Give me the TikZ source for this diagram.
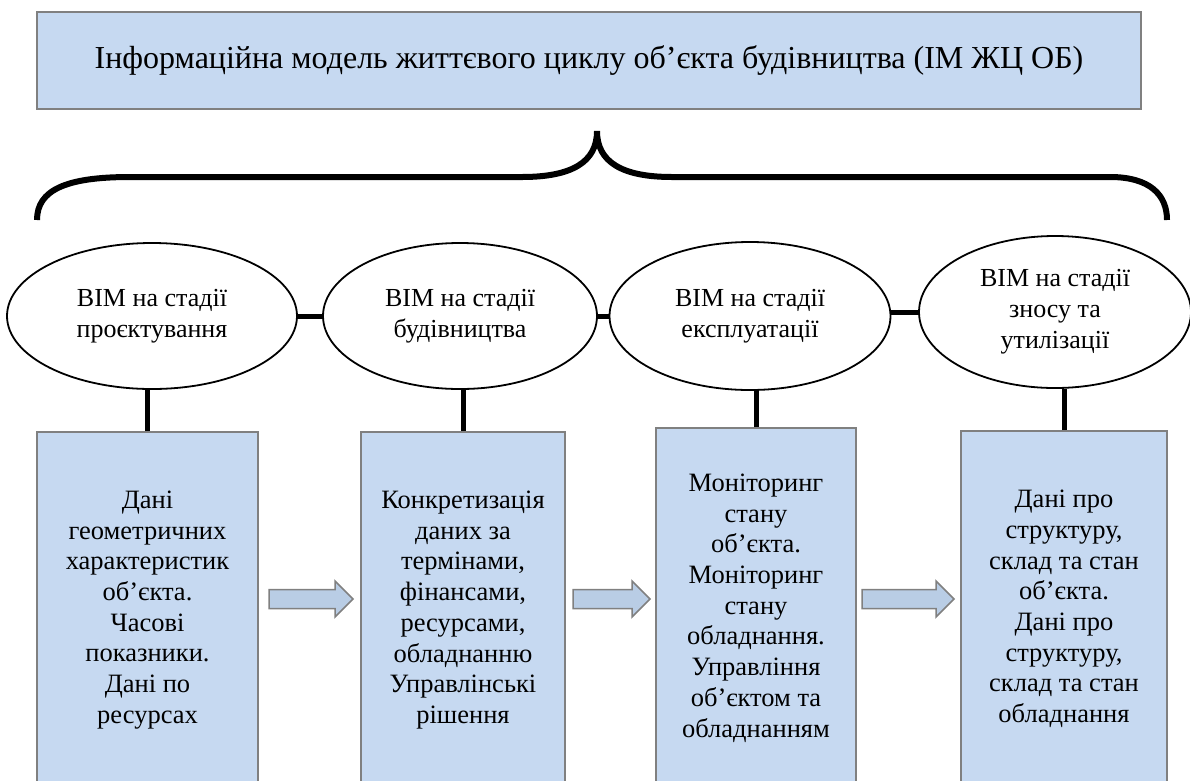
\documentclass[tikz,border=0pt]{standalone}
\usepackage{fontspec}
\setmainfont{Liberation Serif}
\usetikzlibrary{shapes.geometric}
\definecolor{boxfill}{HTML}{C6D9F1}
\definecolor{arrowfill}{HTML}{B9CDE5}
\definecolor{boxline}{HTML}{808080}
\begin{document}
\begin{tikzpicture}[x=1pt,y=-1pt,
  titlebox/.style={draw=boxline, line width=2pt, fill=boxfill, inner sep=0pt,
    font=\fontsize{32}{37}\selectfont},
  databox/.style={draw=boxline, line width=2pt, fill=boxfill, inner sep=0pt, align=center,
    font=\fontsize{26.5}{30.7}\selectfont},
  stage/.style={draw=black, line width=1.8pt, ellipse, inner sep=0pt, align=center,
    font=\fontsize{26}{31}\selectfont},
  conn/.style={line width=5pt, black},
  brace/.style={line width=6pt, black},
  blockarrow/.style={draw=boxline, line width=1.5pt, fill=arrowfill, line join=miter}
]
\useasboundingbox (0,0) rectangle (1190,780);
\clip (0,0) rectangle (1190,780);

% title
\node[titlebox, minimum width=1104pt, minimum height=97pt] (T) at (589,60.5)
  {Інформаційна модель життєвого циклу об’єкта будівництва (ІМ ЖЦ ОБ)};

% brace
\draw[brace] (37,220) .. controls (37,190) and (66,177) .. (130,177) -- (522,177)
  .. controls (572,177) and (597,162) .. (597,131)
  .. controls (597,162) and (622,177) .. (672,177) -- (1110,177)
  .. controls (1150,177) and (1167,195) .. (1167,220);

% stages
\node[stage, minimum width=290pt, minimum height=146pt] (E1) at (152,316) {BIM на стадії\\проєктування};
\node[stage, minimum width=274pt, minimum height=146pt] (E2) at (460,316) {BIM на стадії\\будівництва};
\node[stage, minimum width=281pt, minimum height=148pt] (E3) at (750,316) {BIM на стадії\\експлуатації};
\node[stage, minimum width=272pt, minimum height=152pt] (E4) at (1055,312) {BIM на стадії\\зносу та\\утилізації};

\draw[conn] (E1) -- (E2);
\draw[conn] (E2) -- (E3);
\draw[conn] (E3.east |- E4.west) -- (E4.west);

% data boxes
\node[databox, minimum width=221pt, minimum height=356pt] (B1) at (147.5,610)
  {Дані\\геометричних\\характеристик\\об’єкта.\\Часові\\показники.\\Дані по\\ресурсах};
\node[databox, minimum width=204pt, minimum height=356pt] (B2) at (463,610)
  {Конкретизація\\даних за\\термінами,\\фінансами,\\ресурсами,\\обладнанню\\Управлінські\\рішення};
\node[databox, minimum width=200pt, minimum height=360pt] (B3) at (756,608)
  {Моніторинг\\стану\\об’єкта.\\Моніторинг\\стану\\обладнання.\\Управління\\об’єктом та\\обладнанням};
\node[databox, minimum width=206pt, minimum height=356pt] (B4) at (1064,609)
  {Дані про\\структуру,\\склад та стан\\об’єкта.\\Дані про\\структуру,\\склад та стан\\обладнання};

\draw[conn] (B1.north) -- (B1.north |- E1.south);
\draw[conn] (B2.north) -- (B2.north |- E2.south);
\draw[conn] (B3.north) -- (B3.north |- E3.south);
\draw[conn] (B4.north) -- (B4.north |- E4.south);

% block arrows
\draw[blockarrow] (269,589.5) -- (335,589.5) -- (335,581) -- (353,599) -- (335,617) -- (335,608.5) -- (269,608.5) -- cycle;
\draw[blockarrow] (573,589.5) -- (632,589.5) -- (632,581) -- (650,599) -- (632,617) -- (632,608.5) -- (573,608.5) -- cycle;
\draw[blockarrow] (862,589.5) -- (936,589.5) -- (936,581) -- (954,599) -- (936,617) -- (936,608.5) -- (862,608.5) -- cycle;
\end{tikzpicture}
\end{document}
